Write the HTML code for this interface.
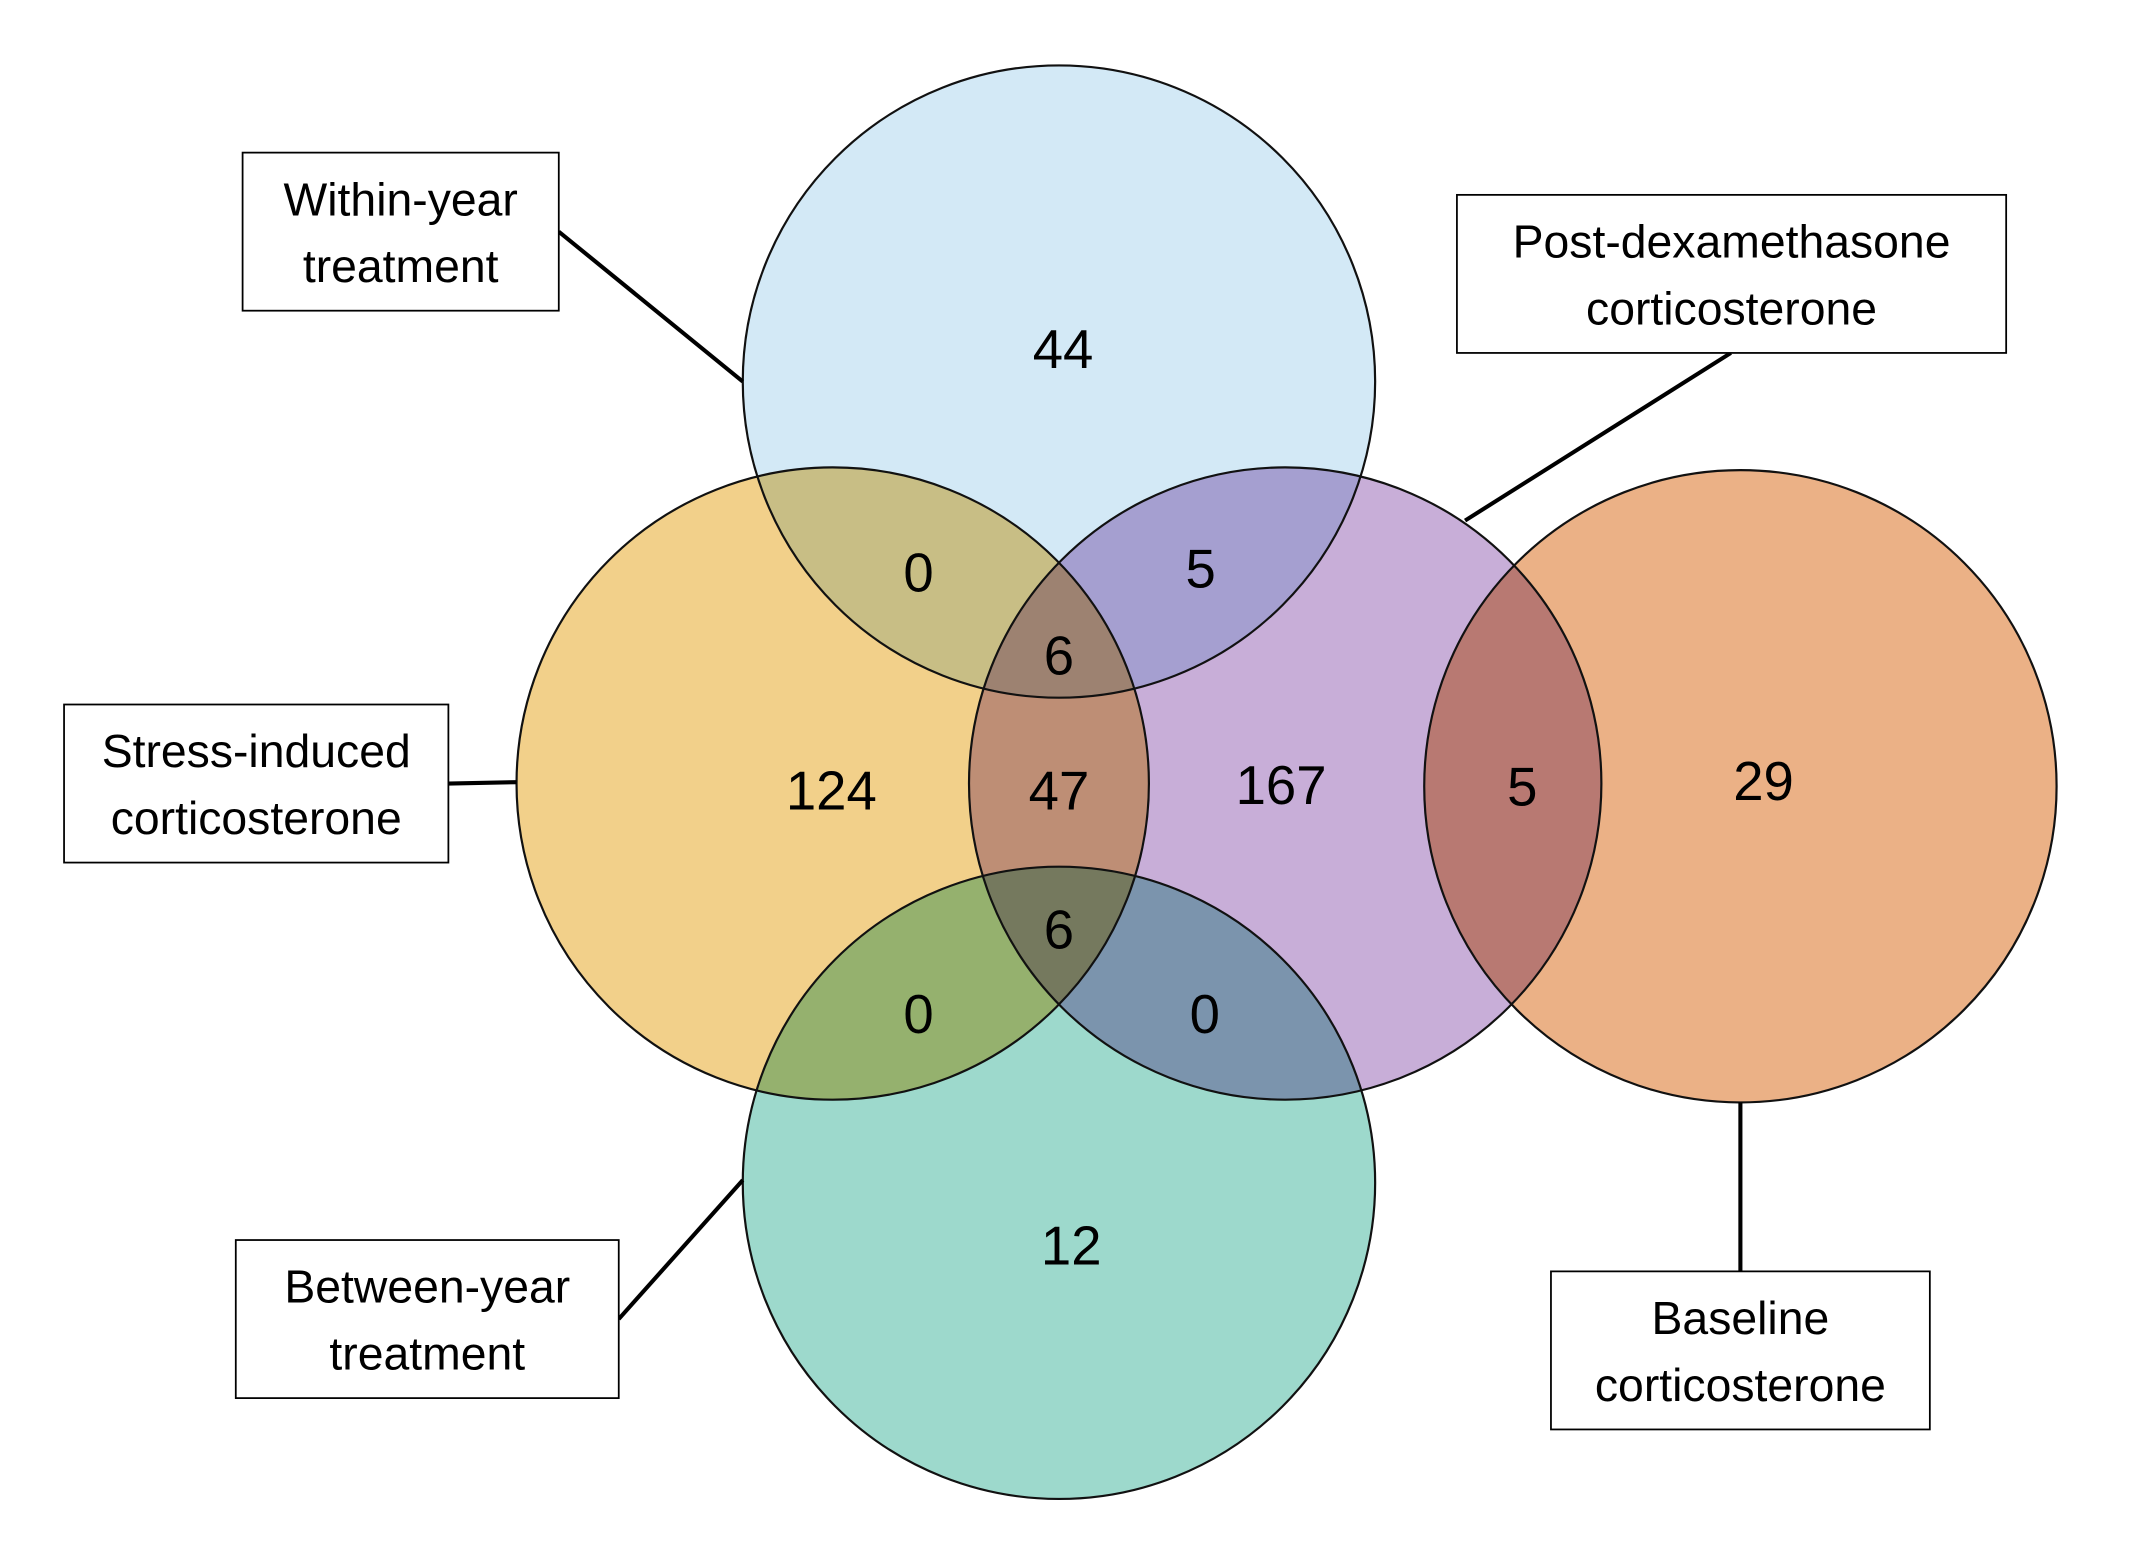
<!DOCTYPE html>
<html><head><meta charset="utf-8"><style>
html,body{margin:0;padding:0;background:#fff;}
svg{display:block;}
text{font-family:"Liberation Sans",sans-serif;}
</style></head><body>
<svg width="2137" height="1548" viewBox="0 0 1568 1136" preserveAspectRatio="none">
<g id="sets" style="isolation:isolate"></g>
<g id="outlines"></g>
<g id="counts"></g>
<g id="labels"></g>
</svg>
<script>
const setNames = ["Within-year treatment","Stress-induced corticosterone","Post-dexamethasone corticosterone","Baseline corticosterone","Between-year treatment"];
const setColors = ["#d3e9f6","#f2d08a","#c8aed8","#ebb186","#9dd9cc"];
const setCx = [777,611,943,1277,777];
const setCy = [280,575,575,577,868];
const regionCounts = ["44","0","5","6","124","47","167","5","29","6","0","0","12"];
const regionX = [780,674,881,777,610,777,940,1117,1294,777,674,884,786];
const regionY = [256,420,417,481,580,580,576,577,573,682,744,744,914];
const R = 232;
const NS="http://www.w3.org/2000/svg";
const gs=document.getElementById('sets'), go=document.getElementById('outlines'), gc=document.getElementById('counts'), gl=document.getElementById('labels');
setNames.forEach((n,i)=>{
  const c=document.createElementNS(NS,'circle');
  c.setAttribute('cx',setCx[i]);c.setAttribute('cy',setCy[i]);c.setAttribute('r',R);
  c.setAttribute('fill',setColors[i]);c.style.mixBlendMode='multiply';
  
  
  gs.appendChild(c);
  const o=document.createElementNS(NS,'circle');
  o.setAttribute('cx',setCx[i]);o.setAttribute('cy',setCy[i]);o.setAttribute('r',R);
  o.setAttribute('fill','none');o.setAttribute('stroke','#111');o.setAttribute('stroke-width','1.6');
  
  
  go.appendChild(o);
});
regionCounts.forEach((v,i)=>{
  const t=document.createElementNS(NS,'text');
  t.setAttribute('x',regionX[i]);t.setAttribute('y',regionY[i]+14);
  t.setAttribute('text-anchor','middle');t.setAttribute('font-size','40');t.setAttribute('fill','#000');
  t.textContent=v;
  
  
  gc.appendChild(t);
});
// label boxes: x,y,w,h, line endpoints
const boxes=[
 {x:178,y:112,w:232,h:116,l:["Within-year","treatment"],ln:[410,170,545,280]},
 {x:1069,y:143,w:403,h:116,l:["Post-dexamethasone","corticosterone"],ln:[1270,259,1075,382]},
 {x:47,y:517,w:282,h:116,l:["Stress-induced","corticosterone"],ln:[329,575,379,574]},
 {x:173,y:910,w:281,h:116,l:["Between-year","treatment"],ln:[454,968,545,866]},
 {x:1138,y:933,w:278,h:116,l:["Baseline","corticosterone"],ln:[1277,933,1277,809]}
];
boxes.forEach((b,i)=>{
  const g=document.createElementNS(NS,'g');
  
  
  const ln=document.createElementNS(NS,'line');
  ln.setAttribute('x1',b.ln[0]);ln.setAttribute('y1',b.ln[1]);ln.setAttribute('x2',b.ln[2]);ln.setAttribute('y2',b.ln[3]);
  ln.setAttribute('stroke','#000');ln.setAttribute('stroke-width','3');
  
  
  g.appendChild(ln);
  const r=document.createElementNS(NS,'rect');
  r.setAttribute('x',b.x);r.setAttribute('y',b.y);r.setAttribute('width',b.w);r.setAttribute('height',b.h);
  r.setAttribute('fill','#fff');r.setAttribute('stroke','#000');r.setAttribute('stroke-width','1.3');
  g.appendChild(r);
  b.l.forEach((s,k)=>{
    const t=document.createElementNS(NS,'text');
    t.setAttribute('x',b.x+b.w/2);t.setAttribute('y',b.y+46+k*49);
    t.setAttribute('text-anchor','middle');t.setAttribute('font-size','34');
    t.textContent=s;
    
    
    g.appendChild(t);
  });
  gl.appendChild(g);
});
</script>
</body></html>
